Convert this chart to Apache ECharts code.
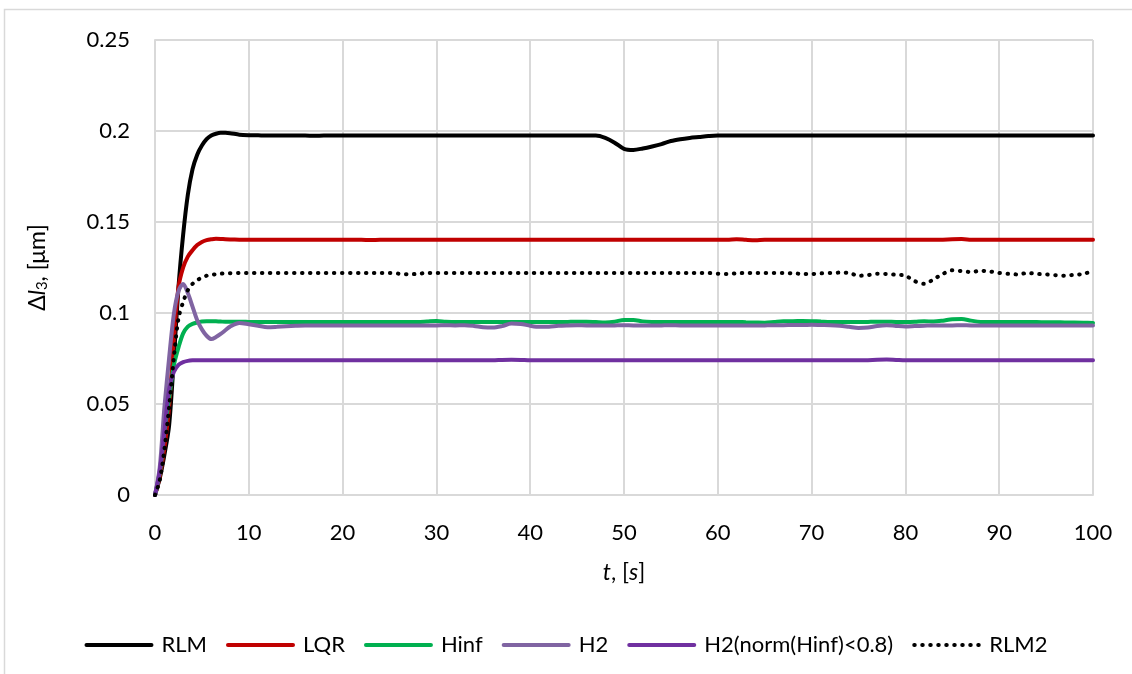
<!DOCTYPE html>
<html>
<head>
<meta charset="utf-8">
<script src="https://cdn.jsdelivr.net/npm/echarts@6/dist/echarts.min.js"></script>
<style>
  html, body { margin: 0; padding: 0; background: #fff; }
  #main { width: 1132px; height: 674px; }
</style>
</head>
<body>
<div id="main"></div>
<script>
// time axis, s
let tValues = [0, 0.5, 1, 1.5, 2, 2.5, 3, 3.5, 4, 4.5, 5, 5.5, 6, 6.5, 7, 7.5, 8,
    9, 10, 11, 12, 13, 14, 15, 16, 17, 18, 19, 20, 21, 22, 23, 24, 25, 26, 27, 28, 29,
    30, 31, 32, 33, 34, 35, 36, 37, 38, 39, 40, 41, 42, 43, 44, 45, 46, 47, 48, 49,
    50, 51, 52, 53, 54, 55, 56, 57, 58, 59, 60, 61, 62, 63, 64, 65, 66, 67, 68, 69,
    70, 71, 72, 73, 74, 75, 76, 77, 78, 79, 80, 81, 82, 83, 84, 85, 86, 87, 88, 89,
    90, 91, 92, 93, 94, 95, 96, 97, 98, 99, 100];

let seriesNames = ["RLM", "LQR", "Hinf", "H2", "H2(norm(Hinf)<0.8)", "RLM2"];

let rlm = [0, 0.009, 0.022, 0.038, 0.074, 0.114, 0.143, 0.165, 0.179, 0.187, 0.192, 0.1955, 0.1975, 0.1985, 0.199, 0.199, 0.1988,
    0.198,
    0.1977, 0.1976, 0.1975, 0.1975, 0.1975, 0.1975, 0.1975, 0.1974, 0.1975, 0.1975,
    0.1975, 0.1975, 0.1975, 0.1975, 0.1975, 0.1975, 0.1975, 0.1975, 0.1975, 0.1975,
    0.1975, 0.1975, 0.1975, 0.1975, 0.1975, 0.1975, 0.1975, 0.1975, 0.1975, 0.1975,
    0.1975, 0.1975, 0.1975, 0.1975, 0.1975, 0.1975, 0.1975, 0.1975, 0.1962, 0.1936,
    0.1902, 0.1896, 0.1904, 0.1915, 0.1928, 0.1945, 0.1955, 0.1962, 0.1967, 0.1972,
    0.1975, 0.1975, 0.1975, 0.1975, 0.1975, 0.1975, 0.1975, 0.1975, 0.1975, 0.1975,
    0.1975, 0.1975, 0.1975, 0.1975, 0.1975, 0.1975, 0.1975, 0.1975, 0.1975, 0.1975,
    0.1975, 0.1975, 0.1975, 0.1975, 0.1975, 0.1975, 0.1975, 0.1975, 0.1975, 0.1975,
    0.1975, 0.1975, 0.1975, 0.1975, 0.1975, 0.1975, 0.1975, 0.1975, 0.1975, 0.1975,
    0.1975];

let lqr = [0, 0.01, 0.026, 0.048, 0.085, 0.114, 0.125, 0.131, 0.1345, 0.1373, 0.139, 0.14, 0.1405, 0.1408, 0.1407, 0.1405, 0.1404,
    0.1403,
    0.1402, 0.1402, 0.1402, 0.1402, 0.1402, 0.1402, 0.1402, 0.1402, 0.1402, 0.1402,
    0.1402, 0.1402, 0.1402, 0.1401, 0.1402, 0.1402, 0.1402, 0.1402, 0.1402, 0.1402,
    0.1402, 0.1402, 0.1402, 0.1402, 0.1402, 0.1402, 0.1402, 0.1402, 0.1402, 0.1403,
    0.1402, 0.1402, 0.1402, 0.1402, 0.1402, 0.1402, 0.1402, 0.1402, 0.1402, 0.1402,
    0.1402, 0.1402, 0.1402, 0.1402, 0.1402, 0.1402, 0.1402, 0.1402, 0.1402, 0.1402,
    0.1402, 0.1402, 0.1405, 0.1402, 0.14, 0.1402, 0.1402, 0.1402, 0.1402, 0.1402,
    0.1402, 0.1402, 0.1402, 0.1402, 0.1402, 0.1402, 0.1402, 0.1402, 0.1402, 0.1402,
    0.1402, 0.1402, 0.1402, 0.1402, 0.1403, 0.1405, 0.1406, 0.1403, 0.1402, 0.1402,
    0.1402, 0.1402, 0.1402, 0.1402, 0.1402, 0.1402, 0.1402, 0.1402, 0.1402, 0.1402,
    0.1402];

let hinf = [0, 0.012, 0.034, 0.053, 0.071, 0.081, 0.0888, 0.0925, 0.094, 0.0948, 0.0953, 0.0955, 0.0955, 0.0954, 0.0953, 0.0952, 0.0952,
    0.0952,
    0.0951, 0.095, 0.095, 0.095, 0.0951, 0.095, 0.095, 0.095, 0.095, 0.095,
    0.095, 0.095, 0.095, 0.095, 0.095, 0.095, 0.095, 0.095, 0.095, 0.0953,
    0.0956, 0.0952, 0.095, 0.095, 0.0951, 0.0951, 0.095, 0.095, 0.095, 0.095,
    0.095, 0.095, 0.095, 0.095, 0.0951, 0.0952, 0.0952, 0.095, 0.0948, 0.0952,
    0.0962, 0.0962, 0.0954, 0.0951, 0.095, 0.095, 0.095, 0.095, 0.095, 0.095,
    0.095, 0.095, 0.0951, 0.0949, 0.0948, 0.0947, 0.0951, 0.0955, 0.0955, 0.0956,
    0.0955, 0.0953, 0.0951, 0.0951, 0.095, 0.095, 0.0951, 0.0952, 0.0952, 0.0951,
    0.0951, 0.0952, 0.0955, 0.0953, 0.0958, 0.0966, 0.0967, 0.0958, 0.0951, 0.095,
    0.095, 0.095, 0.095, 0.095, 0.095, 0.0949, 0.0949, 0.0948, 0.0948, 0.0947,
    0.0945];

let h2 = [0, 0.015, 0.048, 0.075, 0.099, 0.112, 0.116, 0.111, 0.1035, 0.096, 0.091, 0.0875, 0.0857, 0.0868, 0.0885, 0.0905, 0.0925,
    0.0945,
    0.0938, 0.093, 0.0922, 0.0924, 0.0927, 0.093, 0.0932, 0.0931, 0.0932, 0.0932,
    0.0932, 0.0932, 0.0931, 0.0932, 0.0932, 0.0932, 0.0931, 0.0931, 0.0932, 0.0932,
    0.0932, 0.0933, 0.0932, 0.0933, 0.0929, 0.0922, 0.092, 0.0928, 0.0942, 0.094,
    0.093, 0.0924, 0.0925, 0.093, 0.0932, 0.0933, 0.0932, 0.0932, 0.0931, 0.0932,
    0.0933, 0.0932, 0.0932, 0.0931, 0.0932, 0.0933, 0.0932, 0.0932, 0.0932, 0.0931,
    0.0932, 0.0932, 0.0932, 0.0932, 0.0931, 0.0932, 0.0933, 0.0933, 0.0934, 0.0934,
    0.0935, 0.0934, 0.0933, 0.093, 0.0924, 0.0918, 0.092, 0.0929, 0.0933, 0.0929,
    0.0926, 0.0928, 0.093, 0.0932, 0.0932, 0.0932, 0.0933, 0.0932, 0.0932, 0.0932,
    0.0932, 0.0932, 0.0932, 0.0931, 0.0932, 0.0932, 0.0932, 0.0932, 0.0931, 0.0931,
    0.0931];

let h2norm = [0, 0.013, 0.035, 0.058, 0.0675, 0.0715, 0.073, 0.0737, 0.074, 0.0741, 0.0741, 0.0741, 0.074, 0.074, 0.074, 0.074, 0.074,
    0.074,
    0.074, 0.074, 0.074, 0.074, 0.074, 0.074, 0.074, 0.074, 0.074, 0.074,
    0.074, 0.074, 0.074, 0.074, 0.074, 0.074, 0.074, 0.074, 0.074, 0.074,
    0.074, 0.074, 0.074, 0.074, 0.074, 0.074, 0.074, 0.0742, 0.0743, 0.0742,
    0.074, 0.074, 0.074, 0.074, 0.074, 0.074, 0.074, 0.074, 0.074, 0.074,
    0.074, 0.074, 0.074, 0.074, 0.074, 0.074, 0.074, 0.074, 0.074, 0.074,
    0.074, 0.074, 0.074, 0.074, 0.074, 0.074, 0.074, 0.074, 0.074, 0.074,
    0.074, 0.074, 0.074, 0.074, 0.074, 0.074, 0.0741, 0.0743, 0.0744, 0.0742,
    0.074, 0.074, 0.074, 0.074, 0.074, 0.074, 0.074, 0.074, 0.074, 0.074,
    0.074, 0.074, 0.074, 0.074, 0.074, 0.074, 0.074, 0.074, 0.074, 0.074,
    0.074];

let rlm2 = [0, 0.008, 0.025, 0.048, 0.075, 0.097, 0.106, 0.1125, 0.116, 0.118, 0.1195, 0.1205, 0.121, 0.1213, 0.1216, 0.1218, 0.1219,
    0.122,
    0.122, 0.122, 0.122, 0.122, 0.122, 0.122, 0.122, 0.122, 0.122, 0.122,
    0.122, 0.122, 0.122, 0.122, 0.122, 0.122, 0.1216, 0.1213, 0.1215, 0.122,
    0.122, 0.122, 0.122, 0.122, 0.122, 0.122, 0.122, 0.122, 0.122, 0.122,
    0.122, 0.122, 0.122, 0.122, 0.122, 0.122, 0.122, 0.122, 0.122, 0.122,
    0.122, 0.122, 0.122, 0.122, 0.122, 0.122, 0.122, 0.122, 0.122, 0.122,
    0.1216, 0.1214, 0.1218, 0.122, 0.122, 0.122, 0.122, 0.122, 0.1218, 0.1215,
    0.1214, 0.1218, 0.122, 0.1222, 0.122, 0.1205, 0.1208, 0.1216, 0.1214, 0.121,
    0.1205, 0.1175, 0.116, 0.1185, 0.1215, 0.1235, 0.123, 0.1225, 0.1232, 0.1228,
    0.122, 0.1215, 0.1212, 0.122, 0.1215, 0.1212, 0.1208, 0.1205, 0.121, 0.1215,
    0.1232];

let seriesColors = ["#000000", "#C00000", "#00B050", "#8064A2", "#7030A0", "#000000"];
let seriesValues = [rlm, lqr, hinf, h2, h2norm, rlm2];

let dom = document.getElementById("main");
let myChart = echarts.init(dom, null, { renderer: "canvas" });

function pairs(vals) {
    return tValues.map(function (t, i) { return [t, vals[i]]; });
}

let font = "Lato, 'Noto Sans', sans-serif";

let series = seriesNames.map(function (name, i) {
    let dotted = name === "RLM2";
    return {
        name: name,
        type: "line",
        data: pairs(seriesValues[i]),
        symbol: "none",
        smooth: 0.3,
        color: seriesColors[i],
        lineStyle: {
            color: seriesColors[i],
            width: 4,
            type: dotted ? [0.5, 7.5] : "solid",
            cap: "round",
        },
    };
});

let option = {
    animation: false,
    backgroundColor: "#fff",
    textStyle: { fontFamily: font },
    graphic: [{
        type: "rect",
        shape: { x: 4.5, y: 9.5, width: 1300, height: 800 },
        style: { fill: "none", stroke: "#d9d9d9", lineWidth: 1.5 },
        silent: true,
    }],
    grid: { left: 155, right: 39, top: 40, bottom: 179 },
    legend: {
        bottom: 13,
        left: "center",
        itemWidth: 65,
        itemHeight: 14,
        itemGap: 19,
        itemStyle: { opacity: 0 },
        lineStyle: { width: 4, cap: "round" },
        textStyle: { fontSize: 22, color: "#000", fontFamily: font, padding: [0, 0, 0, 5] },
        data: seriesNames,
    },
    xAxis: {
        type: "value",
        min: 0,
        max: 100,
        interval: 10,
        name: "{i|t}{a|, [}{i|s}{a|]}",
        nameLocation: "middle",
        nameGap: 66,
        nameTextStyle: {
            rich: {
                i: { fontSize: 23, fontStyle: "italic", color: "#000", fontFamily: font },
                a: { fontSize: 23, color: "#000", fontFamily: font },
            },
        },
        axisLine: { show: true, lineStyle: { color: "#d9d9d9", width: 2 } },
        axisTick: { show: false },
        axisLabel: { fontSize: 22, color: "#000", margin: 27, fontFamily: font },
        splitLine: { show: true, lineStyle: { color: "#d9d9d9", width: 2 } },
    },
    yAxis: {
        type: "value",
        min: 0,
        max: 0.25,
        interval: 0.05,
        name: "{a|Δ}{i|l}{s|3}{a|, [μm]}",
        nameLocation: "middle",
        nameGap: 105,
        nameRotate: 90,
        nameTextStyle: {
            rich: {
                i: { fontSize: 23, fontStyle: "italic", color: "#000", fontFamily: font },
                a: { fontSize: 23, color: "#000", fontFamily: font },
                s: { fontSize: 15, color: "#000", fontFamily: font, padding: [10, 0, 0, 0] },
            },
        },
        axisLine: { show: true, lineStyle: { color: "#d9d9d9", width: 2 } },
        axisTick: { show: false },
        axisLabel: { fontSize: 22, color: "#000", margin: 25, fontFamily: font },
        splitLine: { show: true, lineStyle: { color: "#d9d9d9", width: 2 } },
    },
    series: series,
};

myChart.setOption(option);
window.addEventListener("resize", myChart.resize);
</script>
</body>
</html>
